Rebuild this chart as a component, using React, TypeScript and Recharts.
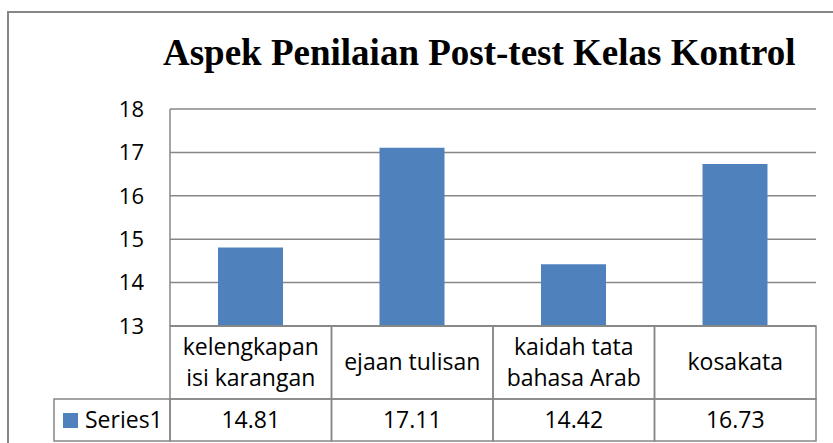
import { BarChart, Bar, XAxis, YAxis, CartesianGrid } from 'recharts';

// values
const categories = ['kelengkapan\nisi karangan', 'ejaan tulisan', 'kaidah tata\nbahasa Arab', 'kosakata'];
const values = [14.81, 17.11, 14.42, 16.73];
const yTicks = [13, 14, 15, 16, 17, 18];
const seriesName = 'Series1';

const W = 833;
const H = 443;
const M = { top: 109, left: 120, right: 17, bottom: 2 };
const Y_AXIS_W = 50;
const X_AXIS_H = 115;
const BAND = (W - M.left - Y_AXIS_W - M.right) / categories.length;

const GRAY = '#878787';
const BLUE = '#4F81BD';
const FONT = '"Open Sans", Lato, sans-serif';

const data = categories.map((c, i) => ({ name: c, value: values[i] }));

function TableTick(props: any) {
  const { x, y, payload } = props;
  const idx = payload?.index ?? props.index ?? 0;
  const left = x - BAND / 2;
  const lines = String(payload.value).split('\n');
  const rowH = 73;
  const valH = 42;
  const txt = { fontFamily: FONT, fontSize: 23, fill: '#000', textAnchor: 'middle' as const };
  return (
    <g>
      <rect x={left} y={y} width={BAND} height={rowH} fill="none" stroke={GRAY} strokeWidth={1.5} />
      <rect x={left} y={y + rowH} width={BAND} height={valH} fill="none" stroke={GRAY} strokeWidth={1.5} />
      {lines.length === 1 ? (
        <text x={x} y={y + 44} {...txt}>{lines[0]}</text>
      ) : (
        lines.map((l, i) => (
          <text key={i} x={x} y={y + 29 + i * 31} {...txt}>{l}</text>
        ))
      )}
      <text x={x} y={y + rowH + 29} {...txt}>{values[idx].toFixed(2)}</text>
      {idx === 0 && (
        <g>
          <rect x={54} y={y + rowH} width={left - 54} height={valH} fill="none" stroke={GRAY} strokeWidth={1.5} />
          <rect x={63} y={y + rowH + 14} width={15} height={15} fill={BLUE} />
          <text x={85} y={y + rowH + 29} {...txt} textAnchor="start">{seriesName}</text>
        </g>
      )}
    </g>
  );
}

export default function App() {
  return (
    <div style={{ position: 'absolute', left: 0, top: 0, width: W, height: H, overflow: 'hidden', background: '#fff' }}>
      <div style={{
        position: 'absolute', left: 7, top: 11, width: W, height: H,
        borderLeft: `2px solid ${GRAY}`, borderTop: `2px solid ${GRAY}`,
      }} />
      <div style={{
        position: 'absolute', left: 163, top: 34, lineHeight: '37px', whiteSpace: 'nowrap',
        fontFamily: '"Liberation Serif", serif', fontWeight: 'bold', fontSize: 37, color: '#000',
      }}>
        Aspek Penilaian Post-test Kelas Kontrol
      </div>
      <div style={{ position: 'absolute', left: 0, top: 0 }}>
        <BarChart width={W} height={H} data={data} margin={M} barSize={65}>
          <CartesianGrid vertical={false} stroke={GRAY} strokeWidth={1.5} />
          <XAxis dataKey="name" height={X_AXIS_H} interval={0} tickLine={false} tickSize={0} tickMargin={0}
            axisLine={{ stroke: GRAY, strokeWidth: 1.5 }} tick={<TableTick />} />
          <YAxis width={Y_AXIS_W} domain={[13, 18]} ticks={yTicks} allowDataOverflow tickLine={false}
            tickSize={0} tickMargin={26} axisLine={{ stroke: GRAY, strokeWidth: 1.5 }}
            tick={{ fill: '#000', fontSize: 22, fontFamily: FONT }} />
          <Bar dataKey="value" name={seriesName} fill={BLUE} isAnimationActive={false} />
        </BarChart>
      </div>
    </div>
  );
}
